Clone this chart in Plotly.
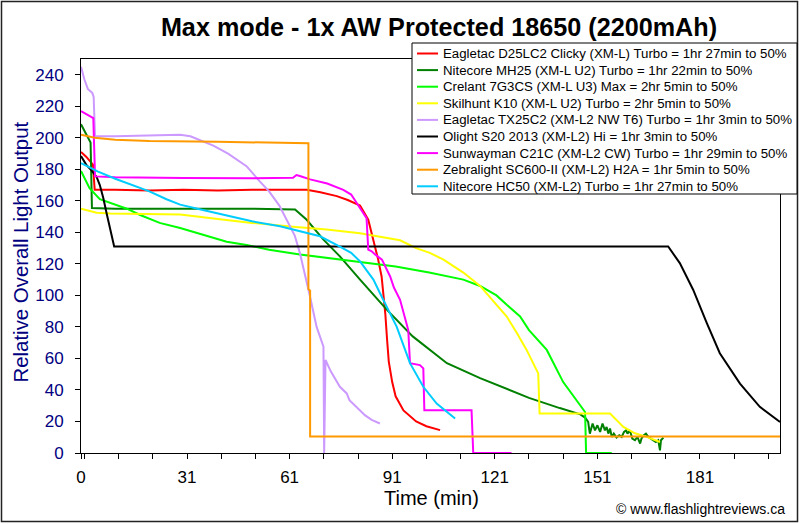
import plotly.graph_objects as go

# ---------------- data (time in minutes, relative output) ----------------
names = [
    "Eagletac D25LC2 Clicky (XM-L) Turbo = 1hr 27min to 50%",
    "Nitecore MH25 (XM-L U2) Turbo = 1hr 22min to 50%",
    "Crelant 7G3CS (XM-L U3) Max = 2hr 5min to 50%",
    "Skilhunt K10 (XM-L U2) Turbo = 2hr 5min to 50%",
    "Eagletac TX25C2 (XM-L2 NW T6) Turbo = 1hr 3min to 50%",
    "Olight S20 2013 (XM-L2) Hi = 1hr 3min to 50%",
    "Sunwayman C21C (XM-L2 CW) Turbo = 1hr 29min to 50%",
    "Zebralight SC600-II (XM-L2) H2A = 1hr 5min to 50%",
    "Nitecore HC50 (XM-L2) Turbo = 1hr 27min to 50%",
]
colors = ["#FF0000", "#008000", "#00FF00", "#FFFF00", "#CC99FF",
          "#000000", "#FF00FF", "#FF9900", "#00CCFF"]

red_t = [0, 1.5, 3.5, 4.0, 10, 20, 30, 40, 50, 60, 66, 70, 74.8, 78, 81.6, 84, 85.5,
         86.9, 87.9, 88.6, 89, 89.5, 90, 91, 92, 94.3, 98, 101, 105]
red_v = [191, 188, 183, 167, 167, 166.5, 167, 166.5, 167, 167, 167, 165.5, 163, 160.5,
         157, 148, 135.4, 122.7, 112, 98, 88, 72, 58, 45, 36, 27, 20, 17, 14.5]

dgreen_t = [0, 1.5, 2.8, 3.2, 10, 30, 50, 62.6, 66, 70.9, 75.7, 81.6, 89.4, 97, 107,
            116.7, 124, 131, 140, 146, 147.4,
            148.3, 148.8, 149.6, 150.3, 151.0, 151.8, 152.5, 153.2, 153.7, 154.2, 154.7,
            155.2, 155.8, 156.6, 157.4, 158.1, 158.8, 159.4, 159.8, 160.5, 161.2, 162.0,
            162.7, 163.5, 163.9, 164.6, 165.2, 165.9, 166.6, 167.3, 168.1, 168.8, 169.3,
            169.6, 170.3]
dgreen_v = [208.6, 202, 197, 155.5, 155, 155, 155, 154.5, 148, 135.4, 124.8, 110, 91, 74,
            57, 47.5, 41, 35, 28.5, 24.5, 22.5,
            19.7, 12.3, 18.7, 14.4, 17.6, 13.4, 18.7, 14.4, 16.5, 12.3, 15.5,
            10.2, 12.3, 9.8, 11.3, 10.2, 13.4, 14.4, 12.3, 14.4, 9.2, 8.1,
            10.2, 6, 9.2, 11.3, 12.3, 10.2, 9.2, 8.1, 7, 8.1, 1.7,
            8.1, 9.8]

lgreen_t = [0, 2.5, 5.5, 10.4, 13.4, 17.3, 23, 29, 35, 42.6, 48.4, 55, 64, 72, 81.6, 92,
            101.8, 111.8, 116.7, 121.5, 124.5, 128.4, 131, 136.2, 141, 147.4, 147.7, 155.2]
lgreen_v = [179, 168, 161, 157, 155, 151, 146, 142.8, 139, 134, 132, 129, 126, 123.7,
            121.2, 118.4, 114.5, 110, 106, 100, 94, 86.6, 78, 65.4, 45, 26, 0, 0]

yellow_t = [0, 4.6, 8.5, 20, 29, 40, 50, 62, 71.8, 81.6, 86.5, 93.3, 98, 102, 106, 111.8,
            116.7, 121.5, 124.5, 127.5, 130.3, 133.7, 134.1, 154.7, 158.6, 162, 165.4, 169.3]
yellow_v = [155, 152.5, 152, 151.5, 151.3, 148.5, 146, 143.5, 141.8, 139.5, 137.5, 135,
            130, 127, 122.7, 114.5, 106, 94, 86.6, 76, 65.4, 50.5, 25, 25, 16.5, 12.5,
            10.2, 7]

purple_t = [0, 1, 2, 3.3, 3.7, 4.1, 10, 20, 29, 32, 35, 38.7, 43, 48.4, 52, 55, 58, 60.5,
            62.5, 64, 65, 67, 68.9, 70.9, 71.1, 71.5, 73, 75.7, 77.7, 78.5, 81.6, 83, 85,
            87.4]
purple_v = [245, 237, 231, 228.5, 226, 201, 201, 201.5, 202, 201, 198.5, 195, 190, 182,
            173, 166, 157, 147, 138, 127, 118, 99, 80, 67.5, 0, 59, 52, 42, 37.8, 33.5,
            27, 24, 21, 18.7]

black_t = [0, 1.5, 3, 4.6, 5.5, 6.5, 7.5, 8.5, 9.7, 30, 60, 90, 120, 150, 171.7, 175.1,
           179, 183, 186.8, 192.7, 198.5, 204.4]
black_v = [188.5, 183, 179.5, 175, 170, 162, 152, 142, 131, 131, 131, 131, 131, 131, 131,
           120.5, 103.6, 82.4, 63.3, 44, 29.3, 19.7]

mag_t = [0, 2.6, 3.6, 4.1, 10, 30, 50, 62, 63, 64, 67, 72, 76.7, 79, 80.6, 82, 83.5, 84,
         85, 86, 88, 89.4, 90.4, 91.5, 93.3, 95.7, 96.2, 99.1, 100.1, 100.4, 114.2, 114.7,
         125.9]
mag_v = [217, 214, 212.5, 175.5, 175, 174.5, 174.3, 174.7, 176.4, 175.8, 173.6, 171, 167,
         164, 159, 154, 149, 129, 128, 126, 122.7, 116.3, 112, 105, 97.2, 78, 57, 55.8,
         53.7, 27.2, 27.2, 0, 0]

orange_t = [0, 4, 10, 20, 40, 60, 66.5, 66.5, 67, 67, 204.4]
orange_v = [202, 200, 198.8, 198, 197.5, 197, 196.5, 104, 103, 10.5, 10.5]

cyan_t = [0, 5, 10, 15, 20, 25, 29, 35, 42.6, 50, 58.2, 65, 69.9, 75.7, 79, 81.6, 85.5,
          87.4, 92.3, 96.2, 100.1, 104, 109.4]
cyan_v = [184, 178.5, 174, 170, 166, 161, 157.6, 154.5, 150.5, 147, 143.9, 140, 137.5, 131,
          127, 121.6, 110, 101.5, 80.2, 57, 42, 31.4, 21.9]

series_t = [red_t, dgreen_t, lgreen_t, yellow_t, purple_t, black_t, mag_t, orange_t, cyan_t]
series_v = [red_v, dgreen_v, lgreen_v, yellow_v, purple_v, black_v, mag_v, orange_v, cyan_v]

x_tick_vals = [0, 31, 61, 91, 121, 151, 181]
x_tick_text = ["0", "31", "61", "91", "121", "151", "181"]
y_tick_vals = [0, 20, 40, 60, 80, 100, 120, 140, 160, 180, 200, 220, 240]

# ---------------- layout geometry (pixels) ----------------
W, H = 800, 524
ML, MR, MT, MB = 81, 20, 59, 71
PW, PH = W - ML - MR, H - MT - MB
FONT = "Arial, Liberation Sans, sans-serif"


def px(xp):
    return (xp - ML) / PW


def py(yp):
    return (H - MB - yp) / PH


fig = go.Figure()
for name, c, t, v in zip(names, colors, series_t, series_v):
    fig.add_trace(go.Scatter(x=t, y=v, mode="lines", name=name,
                             line=dict(color=c, width=2), showlegend=False))

shapes = []
annotations = []

# outer frame
shapes.append(dict(type="rect", xref="paper", yref="paper",
                   x0=px(1.5), x1=px(797.5), y0=py(521.5), y1=py(1.5),
                   line=dict(color="#222222", width=1.5), fillcolor="rgba(0,0,0,0)"))

# legend (drawn manually for exact spacing)
LX0, LX1, LY0, LY1 = 412, 797, 43, 194
shapes.append(dict(type="rect", xref="paper", yref="paper",
                   x0=px(LX0), x1=px(LX1), y0=py(LY1), y1=py(LY0),
                   line=dict(color="black", width=1), fillcolor="white"))
for i, (name, c) in enumerate(zip(names, colors)):
    yc = 53.5 + i * 16.6
    shapes.append(dict(type="line", xref="paper", yref="paper",
                       x0=px(417), x1=px(438), y0=py(yc), y1=py(yc),
                       line=dict(color=c, width=2)))
    annotations.append(dict(xref="paper", yref="paper", x=px(441), y=py(yc),
                            text=name, showarrow=False, xanchor="left", yanchor="middle",
                            font=dict(family=FONT, size=13.25, color="black")))

# axis titles and credit
annotations.append(dict(xref="paper", yref="paper", x=px(20), y=py(252.5),
                        text="Relative Overall Light Output", textangle=-90,
                        showarrow=False, xanchor="center", yanchor="middle",
                        font=dict(family=FONT, size=20.4, color="#000080")))
annotations.append(dict(xref="paper", yref="paper", x=px(431), y=py(498),
                        text="Time (min)", showarrow=False, xanchor="center",
                        yanchor="middle", font=dict(family=FONT, size=20, color="black")))
annotations.append(dict(xref="paper", yref="paper", x=px(787), y=py(509),
                        text="© www.flashlightreviews.ca", showarrow=False,
                        xanchor="right", yanchor="middle",
                        font=dict(family=FONT, size=14, color="black")))

fig.update_layout(
    width=W, height=H,
    margin=dict(l=ML, r=MR, t=MT, b=MB, pad=0),
    paper_bgcolor="white", plot_bgcolor="white",
    title=dict(text="<b>Max mode - 1x AW Protected 18650 (2200mAh)</b>",
               x=439 / W, xref="container", xanchor="center",
               y=1 - 27 / H, yref="container", yanchor="middle",
               font=dict(family=FONT, size=25.2, color="black")),
    showlegend=False,
    shapes=shapes,
    annotations=annotations,
    xaxis=dict(range=[0, 204.4], tickmode="array", tickvals=x_tick_vals,
               ticktext=x_tick_text, ticks="outside", ticklen=5, tickcolor="black",
               tickfont=dict(family=FONT, size=17, color="black"),
               showgrid=False, zeroline=False, showline=True, linecolor="black",
               linewidth=1, mirror=True, ticklabelstandoff=4,
               minor=dict(ticks="outside", ticklen=5, tickcolor="black",
                          tick0=1, dtick=10, showgrid=False)),
    yaxis=dict(range=[0, 250], tickmode="array", tickvals=y_tick_vals,
               ticks="outside", ticklen=5, tickcolor="black",
               tickfont=dict(family=FONT, size=17, color="#000080"),
               showgrid=False, zeroline=False, showline=True, linecolor="black",
               linewidth=1, mirror=True, ticklabelstandoff=8),
)

fig.write_html("out.html", config={"displayModeBar": False},
               post_script="document.body.style.margin='0';"
                           "document.body.style.overflow='hidden';")
